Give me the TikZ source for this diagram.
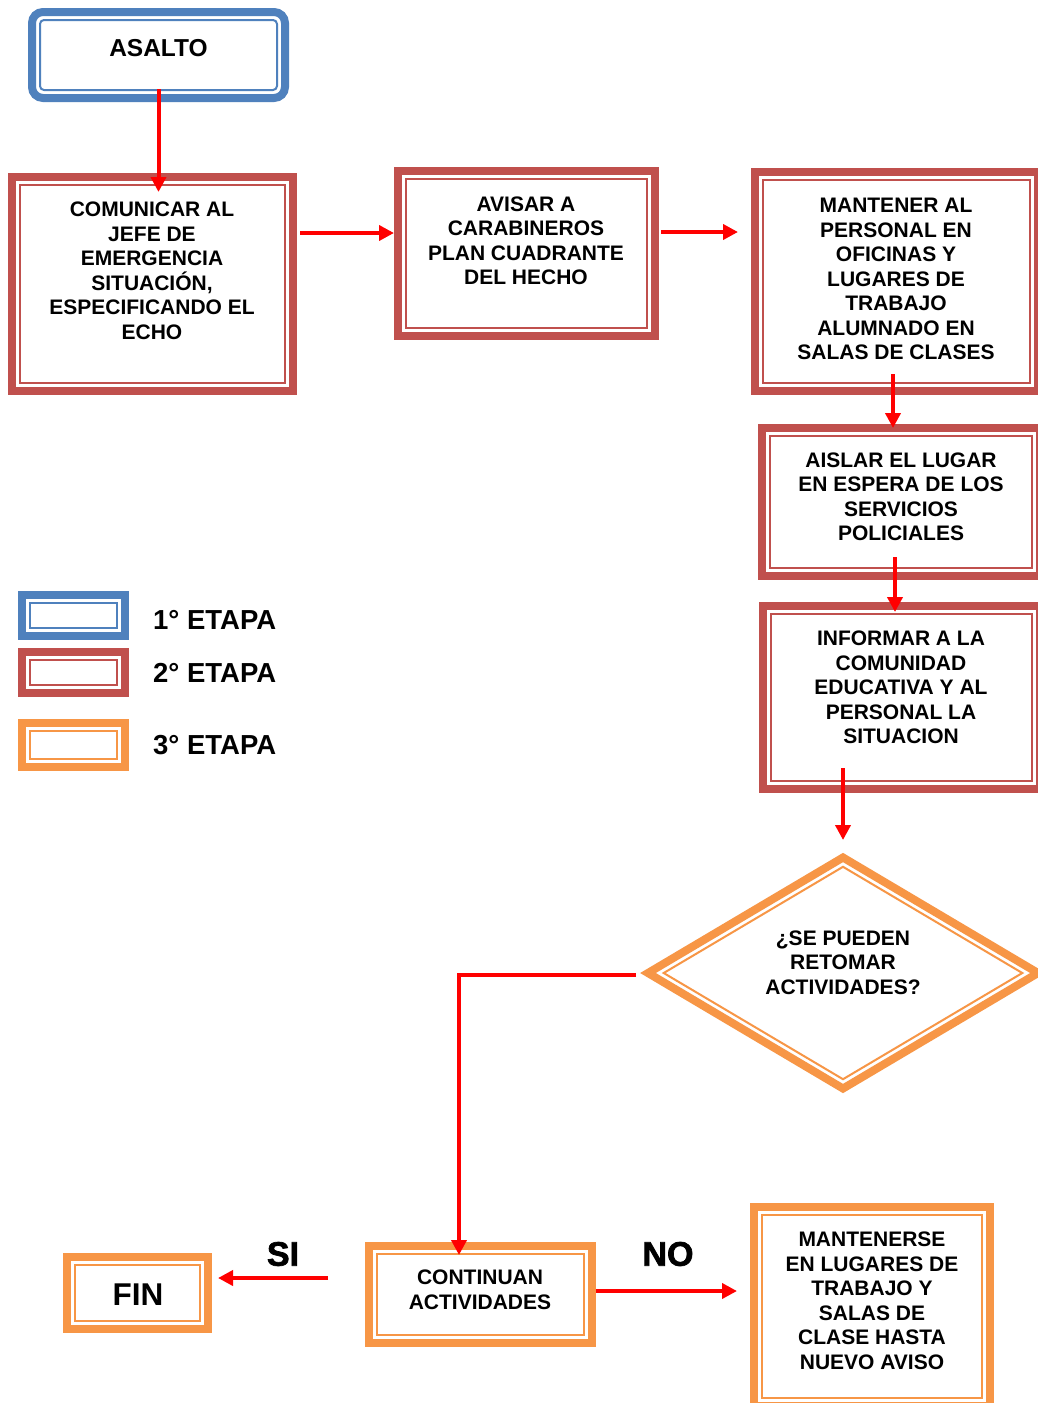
\documentclass[tikz,border=0pt]{standalone}
\usepackage{fontspec}
\setmainfont{Liberation Sans}
\newfontfamily\heavyfont[BoldFeatures={FakeBold=2}]{Liberation Sans}
\usetikzlibrary{shapes.geometric,arrows.meta,calc}
\definecolor{stblue}{HTML}{4F81BD}
\definecolor{stred}{HTML}{C0504D}
\definecolor{storange}{HTML}{F79646}
\definecolor{arrred}{HTML}{FF0000}
\begin{document}
\begin{tikzpicture}[x=1pt,y=-1pt,
  txt/.style={font=\bfseries\fontsize{21}{24.5}\selectfont, align=center, inner sep=0pt},
  stagebox/.style={draw=#1, line width=8pt, fill=white, inner sep=0pt, outer sep=0pt,
    path picture={\draw[#1, line width=2pt, sharp corners]
      ([shift={(8pt,8pt)}]path picture bounding box.south west) rectangle
      ([shift={(-8pt,-8pt)}]path picture bounding box.north east);}},
  roundbox/.style={draw=#1, line width=8pt, fill=white, inner sep=0pt, outer sep=0pt, rounded corners=11pt,
    path picture={\draw[#1, line width=2pt, rounded corners=4pt]
      ([shift={(8pt,8pt)}]path picture bounding box.south west) rectangle
      ([shift={(-8pt,-8pt)}]path picture bounding box.north east);}},
  stagediamond/.style={shape=diamond, draw=#1, line width=8pt, fill=white, inner sep=0pt, outer sep=0pt,
    minimum width=390pt, minimum height=231pt,
    path picture={\draw[#1, line width=2pt]
      ([xshift=15.7pt]path picture bounding box.west) --
      ([yshift=-9.3pt]path picture bounding box.north) --
      ([xshift=-15.7pt]path picture bounding box.east) --
      ([yshift=9.3pt]path picture bounding box.south) -- cycle;}},
  arr/.style={draw=arrred, line width=4pt, -{Triangle[length=15pt,width=15pt]}},
  answer/.style={font=\heavyfont\bfseries\fontsize{34}{40}\selectfont, inner sep=0pt},
  legendtxt/.style={font=\bfseries\fontsize{27.5}{31}\selectfont, inner sep=0pt, anchor=west}
]
\useasboundingbox (0,0) rectangle (1037,1403);
\fill[white] (0,0) rectangle (1037,1403);

% boxes
\node[roundbox=stblue, minimum width=253pt, minimum height=86pt] (asalto) at (158.5,55) {};
\node[stagebox=stred, minimum width=281pt, minimum height=214pt] (A) at (152.5,284) {};
\node[stagebox=stred, minimum width=257pt, minimum height=165pt] (B) at (526.5,253.5) {};
\node[stagebox=stred, minimum width=283pt, minimum height=219pt] (C) at (896.5,281.5) {};
\node[stagebox=stred, minimum width=278pt, minimum height=148pt] (D) at (901,502) {};
\node[stagebox=stred, minimum width=277pt, minimum height=183pt] (E) at (901.5,697.5) {};
\node[stagediamond=storange] (dia) at (843,973) {};
\node[stagebox=storange, minimum width=223pt, minimum height=97pt] (cont) at (480.5,1294.5) {};
\node[stagebox=storange, minimum width=141pt, minimum height=72pt] (fin) at (137.5,1293) {};
\node[stagebox=storange, minimum width=236pt, minimum height=199pt] (mant) at (872,1306.5) {};

% legend
\node[stagebox=stblue, minimum width=103pt, minimum height=41pt] (l1) at (73.5,615.5) {};
\node[stagebox=stred, minimum width=103pt, minimum height=41pt] (l2) at (73.5,672.5) {};
\node[stagebox=storange, minimum width=103pt, minimum height=44pt] (l3) at (73.5,745) {};
\node[legendtxt] (l1T) at (153,620) {1° ETAPA};
\node[legendtxt] (l2T) at (153,673) {2° ETAPA};
\node[legendtxt] (l3T) at (153,745) {3° ETAPA};

% texts
\node[txt, font=\bfseries\fontsize{24.5}{28}\selectfont] (asaltoT) at (158.5,48.5) {ASALTO};
\node[txt] (AT) at (152,271) {COMUNICAR AL\\JEFE DE\\EMERGENCIA\\SITUACIÓN,\\ESPECIFICANDO EL\\ECHO};
\node[txt] (BT) at (526,241) {AVISAR A\\CARABINEROS\\PLAN CUADRANTE\\DEL HECHO};
\node[txt] (CT) at (896,279) {MANTENER AL\\PERSONAL EN\\OFICINAS Y\\LUGARES DE\\TRABAJO\\ALUMNADO EN\\SALAS DE CLASES};
\node[txt] (DT) at (901,497) {AISLAR EL LUGAR\\EN ESPERA DE LOS\\SERVICIOS\\POLICIALES};
\node[txt] (ET) at (901,687.5) {INFORMAR A LA\\COMUNIDAD\\EDUCATIVA Y AL\\PERSONAL LA\\SITUACION};
\node[txt] (diaT) at (843,962.5) {¿SE PUEDEN\\RETOMAR\\ACTIVIDADES?};
\node[txt] (contT) at (480,1290) {CONTINUAN\\ACTIVIDADES};
\node[txt, font=\bfseries\fontsize{31.5}{36}\selectfont] (finT) at (138,1294.5) {FIN};
\node[txt] (mantT) at (872,1301) {MANTENERSE\\EN LUGARES DE\\TRABAJO Y\\SALAS DE\\CLASE HASTA\\NUEVO AVISO};
\node[answer] (si) at (283,1254) {SI};
\node[answer] (no) at (668,1254) {NO};

% connectors
\draw[arr] ($(asalto.south)+(0,-9)$) -- ($(asalto.south |- A.north)+(0,15)$);
\draw[arr] ($(A.east)+(7,-51)$) -- ($(B.west)+(-4,-20.5)$);
\draw[arr] ($(B.east)+(6,-21.5)$) -- ($(C.west)+(-17,-49.5)$);
\draw[arr] ($(C.south)+(-3.5,-17)$) -- ($(D.north)+(-8,0)$);
\draw[arr] ($(D.south)+(-6,-19)$) -- ($(E.north)+(-6.5,6)$);
\draw[arr] ($(E.south)+(-58.5,-21)$) -- ($(dia.north)+(0,-17.5)$);
\draw[arr] ($(dia.west)+(-12,2)$) -| ($(cont.north)+(-21.5,9)$);
\draw[arr] ($(cont.west)+(-41,-16.5)$) -- ($(fin.east)+(10,-15)$);
\draw[arr] ($(cont.east)+(4,-3.5)$) -- ($(mant.west)+(-17,-15.5)$);
\end{tikzpicture}
\end{document}
